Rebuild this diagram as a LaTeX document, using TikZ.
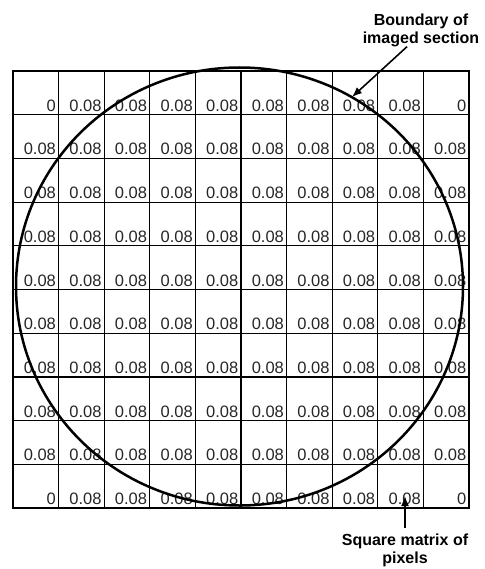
\documentclass[tikz,border=0pt]{standalone}
\usepackage{fontspec}
\setmainfont{Liberation Sans}
\usetikzlibrary{arrows.meta}
\begin{document}
\begin{tikzpicture}[x=1pt, y=-1pt, >={Latex[length=10pt,width=8pt]},
  val/.style={anchor=base east, inner sep=0pt, text=black!85, font=\fontsize{16.5}{16.5}\selectfont},
  lbl/.style={anchor=north, inner sep=0pt, align=center, font=\bfseries\fontsize{16}{18}\selectfont}]
\useasboundingbox (0,0) rectangle (484,569);

% pixel grid
\foreach \i in {1,...,9} {
  \draw[line width=1.2pt] ({13+45.6*\i},71) -- ({13+45.6*\i},508);
  \draw[line width=1.2pt] (13,{71+43.7*\i}) -- (469,{71+43.7*\i});
}
\draw[line width=2pt] (13,71) rectangle (469,508);

% pixel values
\foreach \r in {1,...,10} {
  \foreach \c in {1,...,10} {
    \pgfmathtruncatemacro\corner{((\r==1)||(\r==10))&&((\c==1)||(\c==10))}
    \node[val] (v-\r-\c) at ({13+45.6*\c-2.5},{71+43.7*\r-3.5}) {\ifnum\corner=1 0\else 0.08\fi};
  }
}

% imaged section
\draw[line width=2.5pt] (239.5,286.5) ellipse [x radius=223.5, y radius=219];

\node[lbl] (boundary) at (421,13.3) {Boundary of\\imaged section};
\node[lbl] (matrix) at (405,534) {Square matrix of\\pixels};

\coordinate (edge) at (352,97);
\coordinate (cell) at (405,496);
\draw[->, line width=1.6pt] ([xshift=-14pt]boundary.south) -- (edge);
\draw[->, line width=1.6pt] ([yshift=6pt]matrix.north) -- (cell);
\end{tikzpicture}
\end{document}
